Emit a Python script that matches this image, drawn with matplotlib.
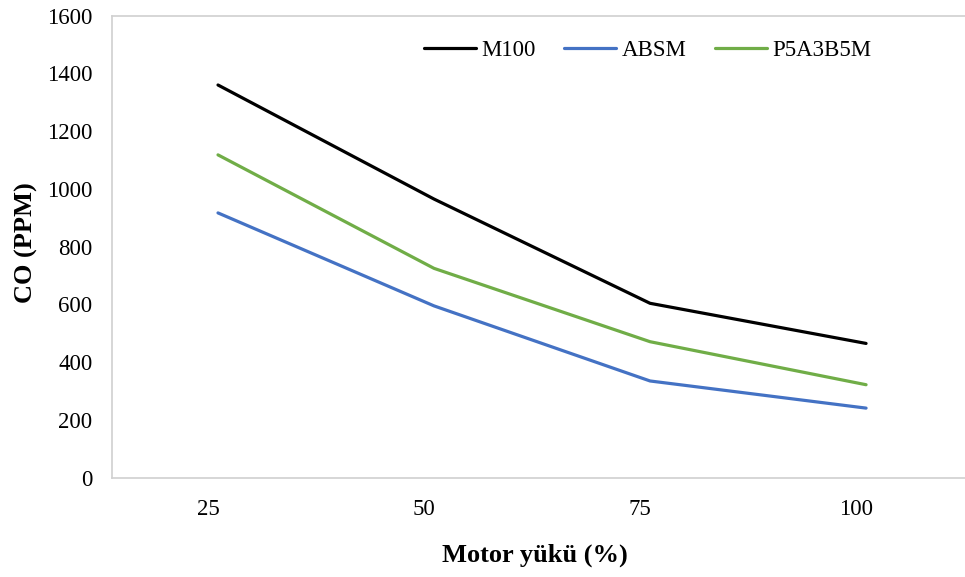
import matplotlib
matplotlib.use("Agg")
import matplotlib.pyplot as plt
import matplotlib.transforms as mtransforms

# Engine load categories and CO emissions (ppm)
loads = ["25", "50", "75", "100"]
m100 = [1360, 965, 604, 465]
absm = [917, 595, 335, 241]
p5a3b5m = [1118, 725, 471, 322]
series_names = ["M100", "ABSM", "P5A3B5M"]
y_ticks = [0, 200, 400, 600, 800, 1000, 1200, 1400, 1600]

plt.rcParams["font.family"] = ["Liberation Serif", "DejaVu Serif"]

W, H = 965, 577
fig = plt.figure(figsize=(W / 100, H / 100), dpi=100)
ax_left, ax_right, ax_top, ax_bottom = 112, 965, 15.7, 477.7
ax = fig.add_axes([ax_left / W, (H - ax_bottom) / H,
                   (ax_right - ax_left) / W, (ax_bottom - ax_top) / H])

x = list(range(len(loads)))
colors = ["#000000", "#4472C4", "#70AD47"]
for vals, name, c in zip([m100, absm, p5a3b5m], series_names, colors):
    ax.plot(x, vals, color=c, lw=2.3, label=name, solid_capstyle="round",
            solid_joinstyle="round")

ax.set_ylim(0, 1600)
ax.set_yticks(y_ticks)
ax.set_yticklabels([str(v) for v in y_ticks])
ax.set_xlim(-0.4907, 3.458)
ax.set_xticks(x)
ax.set_xticklabels(loads)

ax.tick_params(axis="both", length=0, labelsize=16.5, colors="black")
ax.tick_params(axis="y", pad=14)
ax.tick_params(axis="x", pad=15)
shift = mtransforms.ScaledTranslation(-10 / 100, 0, fig.dpi_scale_trans)
for lab in ax.get_xticklabels():
    lab.set_transform(lab.get_transform() + shift)

for side in ["left", "bottom", "top"]:
    ax.spines[side].set_color("#D0D0D0")
    ax.spines[side].set_linewidth(1.2)
ax.spines["right"].set_visible(False)

fig.text(535 / W, 1 - 555 / H, "Motor yükü (%)", fontsize=19, fontweight="bold",
         ha="center", va="center")
fig.text(26 / W, 1 - 243 / H, "CO (PPM)", fontsize=19, fontweight="bold",
         ha="center", va="center", rotation=90)

fs_px = 16.5 * 100 / 72
ax.legend(loc="center left", bbox_to_anchor=(424 / W, 1 - 50.7 / H),
          bbox_transform=fig.transFigure, frameon=False, ncol=3,
          fontsize=16.5, handlelength=52 / fs_px, handletextpad=5 / fs_px,
          columnspacing=29 / fs_px, borderpad=0, borderaxespad=0)

fig.savefig("out.png", dpi=100)
